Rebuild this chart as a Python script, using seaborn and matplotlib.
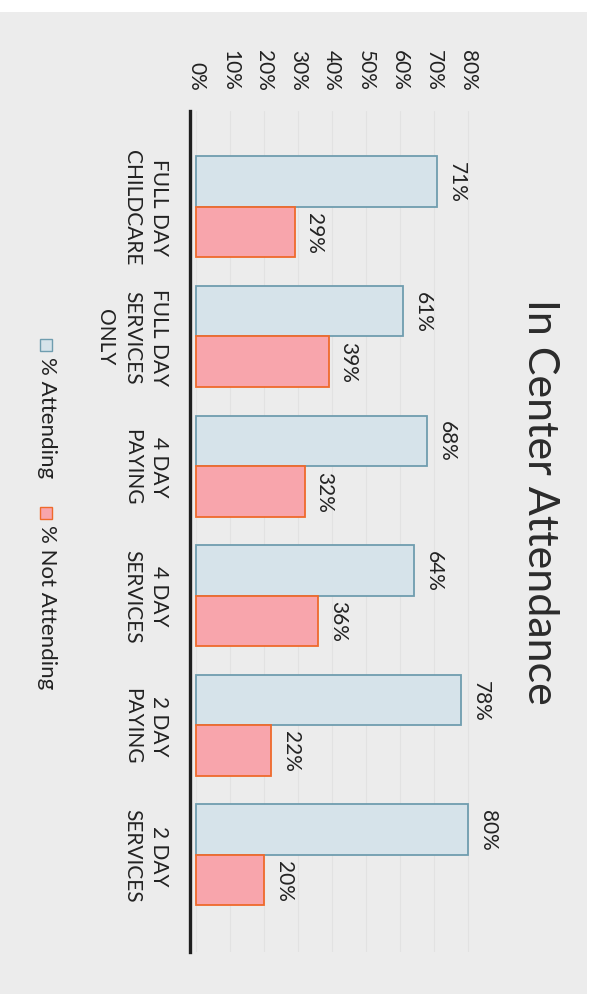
import pandas as pd
import seaborn as sns
import matplotlib.pyplot as plt
from matplotlib.patches import Rectangle

sns.set_theme(style='white')
plt.rcParams['font.family'] = ['Lato', 'DejaVu Sans']

# data
categories = ['FULL DAY\nCHILDCARE', 'FULL DAY\nSERVICES\nONLY', '4 DAY\nPAYING',
              '4 DAY\nSERVICES', '2 DAY\nPAYING', '2 DAY\nSERVICES']
series = ['% Attending', '% Not Attending']
attending = [0.71, 0.61, 0.68, 0.64, 0.78, 0.80]
not_attending = [0.29, 0.39, 0.32, 0.36, 0.22, 0.20]
value_ticks = [0.0, 0.1, 0.2, 0.3, 0.4, 0.5, 0.6, 0.7, 0.8]

fills = ['#d6e3ea', '#f8a5ac']
edges = ['#6f9daf', '#ef6a2c']
text_col = '#222222'

df = pd.DataFrame({
    'cat': categories * 2,
    'serie': [series[0]] * len(categories) + [series[1]] * len(categories),
    'val': attending + not_attending,
})

fig = plt.figure(figsize=(6.13, 10.04), dpi=100, facecolor='white')
# scanned page background
fig.patches.append(Rectangle((0, 0.009), 0.957, 0.978, transform=fig.transFigure,
                             facecolor='#ececec', edgecolor='none', zorder=-10))

ax = fig.add_axes([190 / 613, 51 / 1004, 290 / 613, 841 / 1004])
ax.set_facecolor('none')

sns.barplot(data=df, x='val', y='cat', hue='serie', orient='h', palette=fills,
            width=0.78, linewidth=1.3, saturation=1, legend=False, ax=ax)

for cont, ec, vals in zip(ax.containers, edges, [attending, not_attending]):
    for p in cont:
        p.set_edgecolor(ec)
    txts = ax.bar_label(cont, labels=[f'{v:.0%}' for v in vals], padding=7,
                        rotation=270, fontsize=15, color=text_col)
    for t in txts:
        t.set_va('center')

ax.set_xlim(-0.0176, 0.835)
ax.set_ylim(5.75, -0.74)
ax.set_xticks(value_ticks)
ax.set_xticklabels([f'{v:.0%}' for v in value_ticks], rotation=270, fontsize=15,
                   color=text_col, ha='center', va='bottom')
ax.xaxis.tick_top()
ax.tick_params(axis='x', length=0, pad=15)
ax.tick_params(axis='y', length=0, pad=15)
for t in ax.get_yticklabels():
    t.set_rotation(270)
    t.set_ha('right')
    t.set_va('center')
    t.set_multialignment('center')
    t.set_linespacing(1.45)
    t.set_fontsize(15)
    t.set_color(text_col)
ax.set_xlabel('')
ax.set_ylabel('')
ax.grid(axis='x', color='#e2e2e2', linewidth=0.8)
ax.set_axisbelow(True)
for s in ['top', 'right', 'bottom']:
    ax.spines[s].set_visible(False)
ax.spines['left'].set_color('#1e1e1e')
ax.spines['left'].set_linewidth(2.4)

# title
fig.text(540 / 613, 1 - 502 / 1004, 'In Center Attendance', rotation=270,
         fontsize=31, color='#2b2b2b', ha='center', va='center')

# legend (rotated like the rest of the chart)
leg_y = [1 - 340 / 1004, 1 - 508 / 1004]
for y, lab, fc, ec in zip(leg_y, series, fills, edges):
    fig.patches.append(Rectangle((40 / 613, y - 12 / 1004), 12 / 613, 12 / 1004,
                                 transform=fig.transFigure, facecolor=fc, edgecolor=ec,
                                 linewidth=1))
    fig.text(47 / 613, y - 17 / 1004, lab, rotation=270, fontsize=16, color=text_col,
             ha='center', va='top')

fig.savefig('out.png', dpi=100, facecolor=fig.get_facecolor())
